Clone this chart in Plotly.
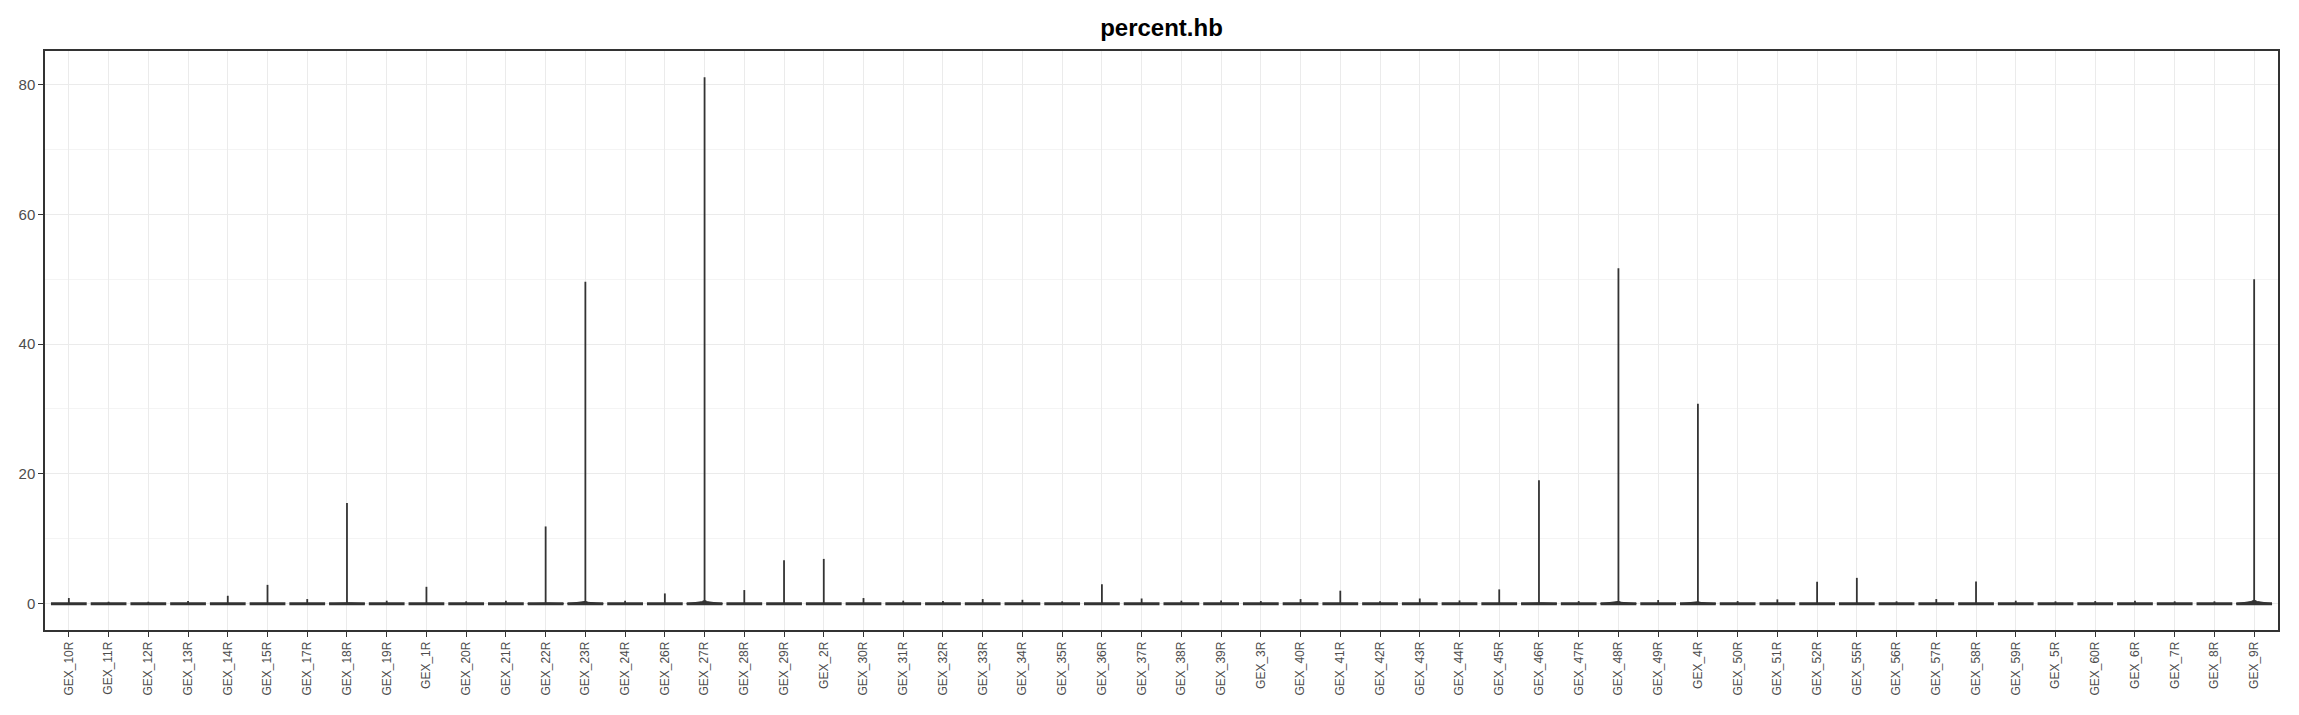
import plotly.graph_objects as go

categories = ["GEX_10R", "GEX_11R", "GEX_12R", "GEX_13R", "GEX_14R", "GEX_15R", "GEX_17R", "GEX_18R",
              "GEX_19R", "GEX_1R", "GEX_20R", "GEX_21R", "GEX_22R", "GEX_23R", "GEX_24R", "GEX_26R",
              "GEX_27R", "GEX_28R", "GEX_29R", "GEX_2R", "GEX_30R", "GEX_31R", "GEX_32R", "GEX_33R",
              "GEX_34R", "GEX_35R", "GEX_36R", "GEX_37R", "GEX_38R", "GEX_39R", "GEX_3R", "GEX_40R",
              "GEX_41R", "GEX_42R", "GEX_43R", "GEX_44R", "GEX_45R", "GEX_46R", "GEX_47R", "GEX_48R",
              "GEX_49R", "GEX_4R", "GEX_50R", "GEX_51R", "GEX_52R", "GEX_55R", "GEX_56R", "GEX_57R",
              "GEX_58R", "GEX_59R", "GEX_5R", "GEX_60R", "GEX_6R", "GEX_7R", "GEX_8R", "GEX_9R"]

# maximum value (top of each violin's spike)
max_values = [0.87, 0.3, 0.3, 0.4, 1.22, 2.9, 0.71, 15.5,
              0.46, 2.6, 0.36, 0.46, 11.9, 49.6, 0.46, 1.58,
              81.1, 2.1, 6.7, 6.9, 0.87, 0.46, 0.4, 0.71,
              0.6, 0.36, 3.0, 0.8, 0.46, 0.5, 0.4, 0.71,
              2.0, 0.36, 0.8, 0.5, 2.2, 19.0, 0.4, 51.7,
              0.56, 30.8, 0.4, 0.66, 3.37, 3.98, 0.36, 0.71,
              3.4, 0.46, 0.36, 0.4, 0.46, 0.36, 0.36, 50.0]

# height of the density bulge at the base of each violin
base_bulge = [0, 0, 0, 0, 0, 0, 0, 0.2,
              0, 0, 0, 0, 0.15, 0.35, 0, 0,
              0.5, 0, 0, 0, 0, 0, 0, 0,
              0, 0, 0, 0, 0, 0, 0, 0,
              0, 0, 0, 0, 0, 0.2, 0, 0.35,
              0, 0.3, 0, 0, 0, 0, 0, 0,
              0, 0, 0, 0, 0, 0, 0, 0.55]

y_min = 0.0
HALF = 0.45
DARK = "#333333"

idx = list(range(len(categories)))

# horizontal base bars
hx, hy = [], []
for i in idx:
    hx += [i - HALF, i + HALF, None]
    hy += [y_min, y_min, None]

# vertical spikes
vx, vy = [], []
for i, m in zip(idx, max_values):
    vx += [i, i, None]
    vy += [y_min, m, None]

# bulges
bx, by = [], []
for i, b in zip(idx, base_bulge):
    if b > 0:
        bx += [i - HALF, i - 0.08, i, i + 0.08, i + HALF, i - HALF, None]
        by += [y_min, b * 0.6, b, b * 0.6, y_min, y_min, None]

fig = go.Figure()
fig.add_trace(go.Scatter(x=bx, y=by, mode="lines", fill="toself", fillcolor=DARK,
                         line=dict(color=DARK, width=1), hoverinfo="skip", showlegend=False))
fig.add_trace(go.Scatter(x=hx, y=hy, mode="lines", line=dict(color=DARK, width=3),
                         hoverinfo="skip", showlegend=False))
fig.add_trace(go.Scatter(x=vx, y=vy, mode="lines", line=dict(color=DARK, width=1.8),
                         hoverinfo="skip", showlegend=False))

ymax = max(max_values)
pad = 0.05 * (ymax - y_min)

fig.update_layout(
    width=2283, height=699,
    margin=dict(l=37, r=11, t=43, b=74),
    paper_bgcolor="white", plot_bgcolor="white",
    title=dict(text="<b>percent.hb</b>", x=0.5, xanchor="center", xref="paper",
               y=1 - 20 / 699, yref="container", yanchor="middle",
               font=dict(family="Liberation Sans, Arial", size=24, color="black")),
    font=dict(family="Liberation Sans, Arial"),
    xaxis=dict(
        range=[-0.6, len(categories) - 0.4],
        tickmode="array", tickvals=idx, ticktext=categories, tickangle=-90,
        tickfont=dict(size=12, color="#4d4d4d"),
        ticks="outside", ticklen=5, tickcolor=DARK, tickwidth=1.2,
        showgrid=True, gridcolor="#ebebeb", gridwidth=1.1,
        zeroline=False, showline=True, linecolor=DARK, linewidth=1.5, mirror=True,
    ),
    yaxis=dict(
        range=[y_min - pad, ymax + pad],
        tickmode="array", tickvals=[0, 20, 40, 60, 80],
        tickfont=dict(size=15, color="#4d4d4d"),
        ticks="outside", ticklen=5, tickcolor=DARK, tickwidth=1.2,
        showgrid=True, gridcolor="#ebebeb", gridwidth=1.1,
        minor=dict(tickvals=[10, 30, 50, 70], showgrid=True, gridcolor="#f4f4f4", gridwidth=0.6, ticks=""),
        zeroline=False, showline=True, linecolor=DARK, linewidth=1.5, mirror=True,
    ),
)

fig.write_html("out.html")
